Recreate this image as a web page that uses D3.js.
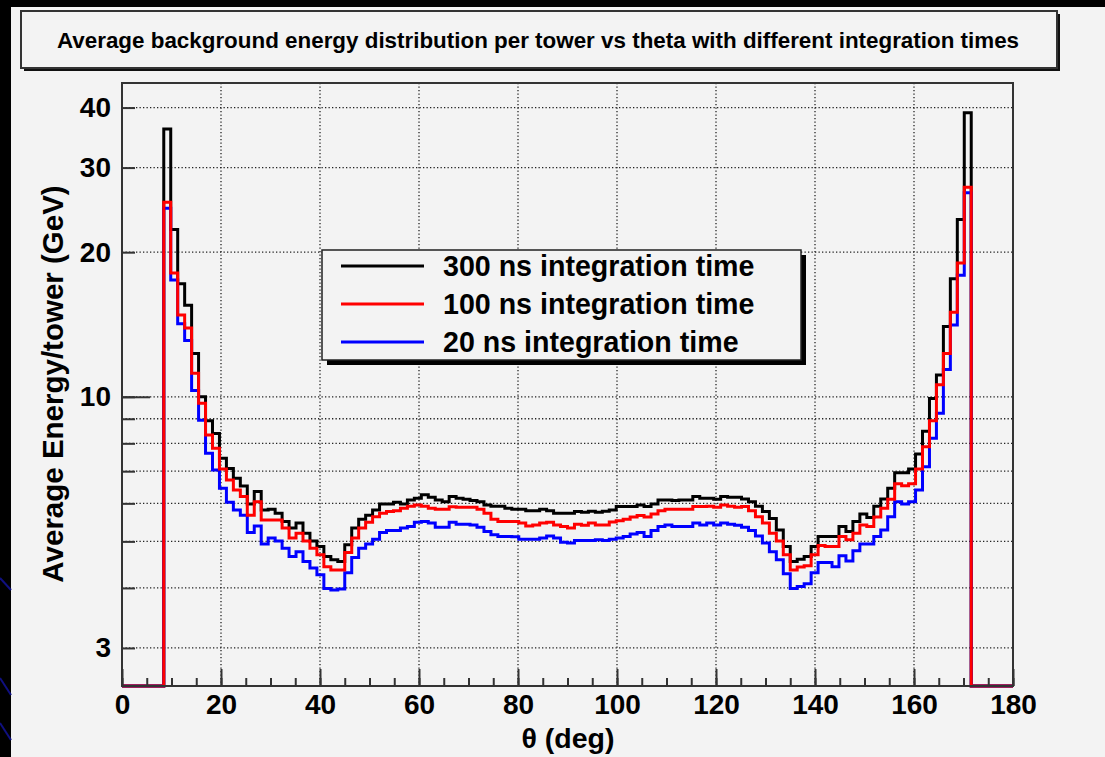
<!DOCTYPE html>
<html>
<head>
<meta charset="utf-8">
<script src="https://cdn.jsdelivr.net/npm/d3@7"></script>
<style>
  html, body { margin: 0; padding: 0; background: #000; }
  svg { display: block; }
  text { font-family: "Liberation Sans", Arial, Helvetica, sans-serif; font-weight: bold; fill: #000; }
</style>
</head>
<body>
<svg id="chart" width="1105" height="757"></svg>
<script>
// Histogram binning: 128 equal bins in theta over [0, 180] deg,
// the filled towers start at bin 6 and run to bin 121.
const thetaRange = [0, 180];
const nBins = 128;
const firstBin = 6;

// Average energy per tower (GeV), one value per filled bin
const energy300ns = [
  36.1, 22.3, 17.2, 15.5, 12.3, 10.0, 8.91, 8.39, 7.45, 7.09,
  6.77, 6.52, 5.98, 6.35, 5.81, 5.83, 5.72, 5.50, 5.33, 5.46,
  5.20, 5.01, 4.88, 4.65, 4.58, 4.54, 4.92, 5.33, 5.56, 5.67,
  5.81, 5.98, 5.98, 6.03, 5.98, 6.10, 6.15, 6.25, 6.18, 6.10,
  6.05, 6.20, 6.15, 6.12, 6.08, 6.05, 5.95, 5.92, 5.92, 5.86,
  5.83, 5.83, 5.79, 5.79, 5.83, 5.79, 5.72, 5.72, 5.72, 5.77,
  5.75, 5.78, 5.75, 5.78, 5.81, 5.91, 5.91, 5.91, 5.95, 5.91,
  5.98, 6.10, 6.10, 6.08, 6.10, 6.10, 6.20, 6.15, 6.15, 6.12,
  6.20, 6.18, 6.18, 6.13, 6.05, 5.92, 5.77, 5.58, 5.28, 4.88,
  4.54, 4.59, 4.65, 4.88, 5.12, 5.12, 5.12, 5.37, 5.24, 5.50,
  5.70, 5.61, 5.92, 6.13, 6.45, 6.95, 6.95, 7.07, 7.60, 8.48,
  9.92, 11.1, 14.0, 17.6, 23.4, 39.0
];
const energy100ns = [
  25.4, 18.1, 14.8, 13.9, 11.2, 9.69, 8.33, 7.81, 7.07, 6.71,
  6.40, 6.20, 5.67, 6.05, 5.54, 5.54, 5.54, 5.33, 5.08, 5.20,
  5.01, 4.84, 4.69, 4.43, 4.36, 4.36, 4.74, 5.08, 5.33, 5.48,
  5.63, 5.72, 5.77, 5.79, 5.86, 5.92, 5.95, 5.92, 5.86, 5.83,
  5.83, 5.90, 5.89, 5.89, 5.89, 5.83, 5.72, 5.56, 5.50, 5.50,
  5.50, 5.46, 5.38, 5.41, 5.46, 5.48, 5.41, 5.37, 5.33, 5.43,
  5.40, 5.46, 5.41, 5.41, 5.49, 5.52, 5.56, 5.62, 5.66, 5.62,
  5.70, 5.79, 5.83, 5.83, 5.83, 5.83, 5.91, 5.91, 5.92, 5.89,
  5.95, 5.92, 5.89, 5.91, 5.79, 5.63, 5.46, 5.20, 5.01, 4.69,
  4.36, 4.42, 4.45, 4.69, 4.90, 4.88, 4.88, 5.12, 5.04, 5.20,
  5.41, 5.37, 5.62, 5.86, 6.12, 6.59, 6.53, 6.59, 7.07, 7.87,
  8.91, 10.6, 12.3, 15.0, 19.0, 27.3
];
const energy20ns = [
  24.7, 17.5, 14.2, 13.1, 10.3, 8.94, 7.63, 7.04, 6.45, 6.03,
  5.81, 5.67, 5.22, 5.38, 4.94, 5.08, 5.01, 4.84, 4.65, 4.76,
  4.54, 4.40, 4.26, 3.99, 3.96, 3.98, 4.30, 4.63, 4.84, 4.94,
  5.05, 5.22, 5.27, 5.27, 5.33, 5.37, 5.48, 5.50, 5.46, 5.35,
  5.35, 5.48, 5.43, 5.43, 5.41, 5.35, 5.24, 5.16, 5.12, 5.12,
  5.11, 5.05, 5.05, 5.05, 5.08, 5.13, 5.08, 4.98, 4.96, 5.02,
  5.02, 5.02, 5.04, 5.02, 5.05, 5.08, 5.12, 5.18, 5.22, 5.12,
  5.27, 5.37, 5.41, 5.37, 5.37, 5.37, 5.46, 5.41, 5.46, 5.41,
  5.46, 5.43, 5.40, 5.35, 5.27, 5.13, 4.96, 4.76, 4.58, 4.28,
  3.99, 4.03, 4.08, 4.30, 4.52, 4.52, 4.43, 4.67, 4.55, 4.78,
  4.94, 4.94, 5.12, 5.28, 5.63, 6.05, 5.98, 6.05, 6.40, 7.15,
  8.20, 9.24, 11.4, 14.1, 17.9, 26.6
];

const seriesLabels = ["300 ns integration time", "100 ns integration time", "20 ns integration time"];
const seriesColors = ["#000000", "#ff0000", "#0000ff"];

const xMajorTicks = [0, 20, 40, 60, 80, 100, 120, 140, 160, 180];
const xGridTicks = [20, 40, 60, 80, 100, 120, 140, 160];
const yLabelTicks = [3, 10, 20, 30, 40];
const yGridTicks = [3, 4, 5, 6, 7, 8, 9, 10, 20, 30, 40];
const yDomain = [2.5, 45];

const titleText = "Average background energy distribution per tower vs theta with different integration times";
const xTitle = "\u03b8 (deg)";
const yTitle = "Average Energy/tower (GeV)";

// ---------------------------------------------------------------
const svg = d3.select("#chart");
const W = 1105, H = 757;
const bg = "#f3f3f3";
const frame = { left: 122, right: 1013, top: 83, bottom: 686 };

// canvas with the dark slide border on top and left
svg.append("rect").attr("width", W).attr("height", H).attr("fill", "#000");
svg.append("rect").attr("x", 11).attr("y", 7).attr("width", W - 11).attr("height", H - 7).attr("fill", bg);
const deco = [[578, 590], [678, 695], [723, 740]];
svg.selectAll("line.deco").data(deco).join("line")
  .attr("x1", 0).attr("x2", 11).attr("y1", d => d[0]).attr("y2", d => d[1])
  .attr("stroke", "#101080").attr("stroke-width", 2);

const x = d3.scaleLinear().domain(thetaRange).range([frame.left, frame.right]);
const y = d3.scaleLog().domain(yDomain).range([frame.bottom, frame.top]);

// grid
const grid = svg.append("g").attr("stroke", "#222").attr("stroke-width", 1.3)
  .attr("stroke-dasharray", "1.3,2.2");
grid.selectAll("line.gx").data(xGridTicks).join("line")
  .attr("x1", d => x(d)).attr("x2", d => x(d))
  .attr("y1", frame.top).attr("y2", frame.bottom);
grid.selectAll("line.gy").data(yGridTicks).join("line")
  .attr("x1", frame.left).attr("x2", frame.right)
  .attr("y1", d => y(d)).attr("y2", d => y(d));

// histograms, drawn as step outlines including the empty bins
const binWidth = (thetaRange[1] - thetaRange[0]) / nBins;
function binContents(vals) {
  return d3.range(nBins).map(i => {
    const k = i - firstBin;
    return (k >= 0 && k < vals.length) ? vals[k] : 0;
  });
}
function stepPath(vals) {
  const contents = binContents(vals);
  const yv = v => v > 0 ? Math.max(frame.top, Math.min(frame.bottom, y(v))) : frame.bottom;
  const p = d3.path();
  p.moveTo(x(thetaRange[0]), frame.bottom);
  contents.forEach((v, i) => {
    const x0 = x(thetaRange[0] + i * binWidth), x1 = x(thetaRange[0] + (i + 1) * binWidth);
    p.lineTo(x0, yv(v));
    p.lineTo(x1, yv(v));
  });
  p.lineTo(x(thetaRange[1]), frame.bottom);
  return p.toString();
}
const series = [energy300ns, energy100ns, energy20ns];
const drawOrder = [0, 2, 1];
svg.append("g").selectAll("path").data(drawOrder).join("path")
  .attr("d", i => stepPath(series[i]))
  .attr("fill", "none")
  .attr("stroke", i => seriesColors[i])
  .attr("stroke-width", 3)
  .attr("stroke-linejoin", "miter");

// frame
svg.append("rect")
  .attr("x", frame.left).attr("y", frame.top)
  .attr("width", frame.right - frame.left).attr("height", frame.bottom - frame.top)
  .attr("fill", "none").attr("stroke", "#333").attr("stroke-width", 2);

// x axis: minor ticks every 5 deg, major labelled ticks every 20 deg
const axisStyle = g => {
  g.select(".domain").remove();
  g.selectAll(".tick line").attr("stroke", "#333").attr("stroke-width", 2);
  g.selectAll("text").style("font-size", "28px").attr("fill", "#000");
};
svg.append("g").attr("transform", `translate(0,${frame.bottom})`)
  .call(d3.axisBottom(x).tickValues(d3.range(0, 181, 5)).tickSize(-8).tickFormat(""))
  .call(axisStyle);
svg.append("g").attr("transform", `translate(0,${frame.bottom})`)
  .call(d3.axisBottom(x).tickValues(xMajorTicks).tickSizeInner(-17).tickSizeOuter(0).tickPadding(8).tickFormat(d3.format("d")))
  .call(axisStyle);

// y axis (log)
svg.append("g").attr("transform", `translate(${frame.left},0)`)
  .call(d3.axisLeft(y).tickValues(yGridTicks).tickSizeInner(-13).tickSizeOuter(0).tickPadding(11)
    .tickFormat(d => yLabelTicks.includes(d) ? d3.format("d")(d) : ""))
  .call(axisStyle);
svg.append("g").attr("transform", `translate(${frame.left},0)`)
  .call(d3.axisLeft(y).tickValues([10]).tickSize(-28).tickFormat(""))
  .call(axisStyle);

// axis titles
svg.append("text").attr("x", 568).attr("y", 748)
  .attr("text-anchor", "middle").style("font-size", "28.5px").text(xTitle);
svg.append("text")
  .attr("transform", `translate(63,384) rotate(-90)`)
  .attr("text-anchor", "middle").style("font-size", "29.5px").text(yTitle);

// title box
svg.append("rect").attr("x", 24).attr("y", 14).attr("width", 1036).attr("height", 57).attr("fill", "#111");
svg.append("rect").attr("x", 21).attr("y", 11).attr("width", 1036).attr("height", 57)
  .attr("fill", bg).attr("stroke", "#333").attr("stroke-width", 2);
svg.append("text").attr("x", 538).attr("y", 40).attr("dominant-baseline", "central")
  .attr("text-anchor", "middle").style("font-size", "22.4px").text(titleText);

// legend
const leg = { x: 322, y: 250, w: 479, h: 110 };
svg.append("rect").attr("x", leg.x + 5).attr("y", leg.y + 5).attr("width", leg.w).attr("height", leg.h).attr("fill", "#000");
svg.append("rect").attr("x", leg.x).attr("y", leg.y).attr("width", leg.w).attr("height", leg.h)
  .attr("fill", bg).attr("stroke", "#222").attr("stroke-width", 1.5);
const rowY = [266, 304, 342];
const legRows = svg.append("g").selectAll("g").data(seriesLabels).join("g")
  .attr("transform", (d, i) => `translate(0,${rowY[i]})`);
legRows.append("line").attr("x1", 341).attr("x2", 424).attr("y1", 0).attr("y2", 0)
  .attr("stroke", (d, i) => seriesColors[i]).attr("stroke-width", 3);
legRows.append("text").attr("x", 443).attr("y", 0).attr("dominant-baseline", "central")
  .style("font-size", "28.6px").text(d => d);
</script>
</body>
</html>
